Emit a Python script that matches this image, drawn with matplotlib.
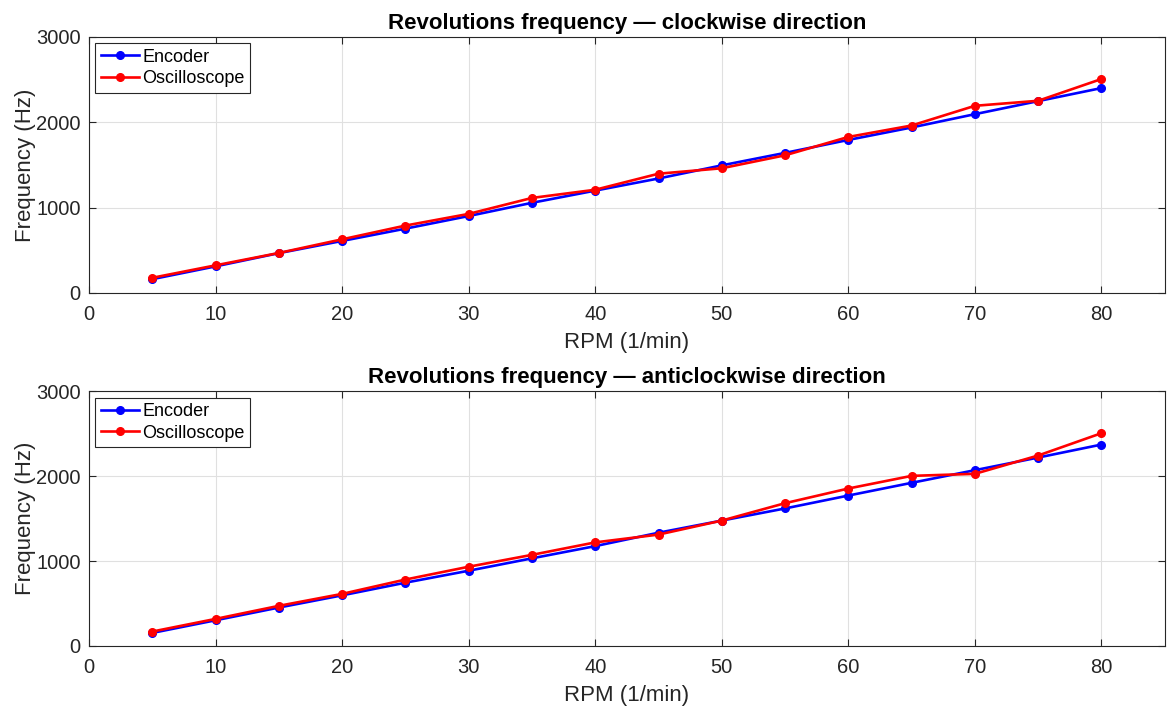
import numpy as np
import matplotlib
matplotlib.use('Agg')
import matplotlib.pyplot as plt

plt.rcParams['font.family'] = ['Liberation Sans', 'DejaVu Sans']

# RPM values (x axis)
rpm = [5, 10, 15, 20, 25, 30, 35, 40, 45, 50, 55, 60, 65, 70, 75, 80]

# clockwise direction
enc_cw = [160, 310, 465, 608, 752, 900, 1055, 1198, 1340, 1494, 1640, 1792, 1938, 2094, 2247, 2400]
osc_cw = [176, 322, 467, 627, 788, 925, 1112, 1208, 1396, 1460, 1612, 1827, 1961, 2192, 2251, 2506]

# anticlockwise direction
enc_acw = [153, 302, 452, 596, 745, 886, 1032, 1176, 1334, 1477, 1620, 1772, 1922, 2071, 2220, 2373]
osc_acw = [169, 318, 472, 613, 782, 933, 1073, 1220, 1312, 1477, 1682, 1855, 2004, 2028, 2244, 2507]

titles = ['Revolutions frequency \u2014 clockwise direction',
          'Revolutions frequency \u2014 anticlockwise direction']

fig = plt.figure(figsize=(11.68, 7.09), dpi=100)
ax1 = fig.add_axes([0.0762, 0.587, 0.921, 0.361])
ax2 = fig.add_axes([0.0762, 0.089, 0.921, 0.359])

for ax, enc, osc, title in [(ax1, enc_cw, osc_cw, titles[0]),
                            (ax2, enc_acw, osc_acw, titles[1])]:
    ax.plot(rpm, enc, '-o', color='#0000ff', lw=1.9, ms=5.5, label='Encoder')
    ax.plot(rpm, osc, '-o', color='#ff0000', lw=1.9, ms=5.5, label='Oscilloscope')
    ax.set_xlim(0, 85)
    ax.set_ylim(0, 3000)
    ax.set_xticks(np.arange(0, 81, 10))
    ax.set_yticks([0, 1000, 2000, 3000])
    ax.grid(True, color='#e0e0e0', lw=0.8)
    ax.set_axisbelow(True)
    ax.tick_params(direction='in', top=True, right=True, labelsize=14.5,
                   color='#262626', labelcolor='#262626', length=5)
    ax.tick_params(axis='x', pad=8.5)
    ax.tick_params(axis='y', pad=6)
    for s in ax.spines.values():
        s.set_color('#262626')
        s.set_linewidth(0.8)
    ax.set_xlabel('RPM (1/min)', fontsize=16, color='#262626', labelpad=6)
    ax.set_ylabel('Frequency (Hz)', fontsize=16, color='#262626', labelpad=0)
    ax.set_title(title, fontsize=16, fontweight='bold', pad=6)
    leg = ax.legend(loc='upper left', fontsize=13, fancybox=False,
                    edgecolor='#262626', framealpha=1, borderaxespad=0.35,
                    handlelength=2.1, handletextpad=0.2, borderpad=0.3,
                    labelspacing=0.25)
    leg.get_frame().set_linewidth(0.8)

fig.savefig('out.png', dpi=100)
